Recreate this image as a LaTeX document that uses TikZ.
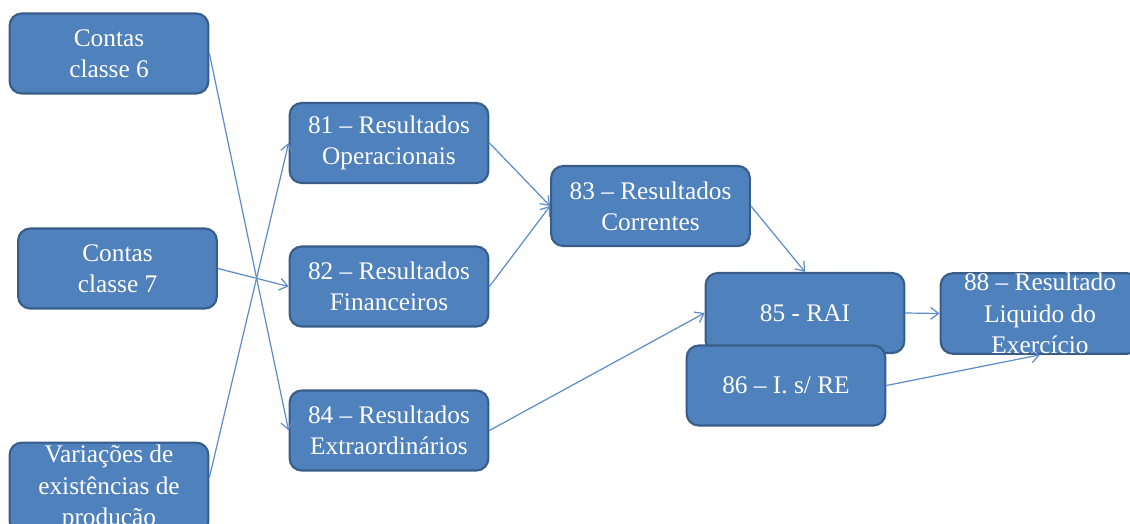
\documentclass[tikz,border=0pt]{standalone}
\usepackage{fontspec}
\setmainfont{Liberation Serif}
\usetikzlibrary{arrows.meta}
\definecolor{boxfill}{HTML}{4F81BD}
\definecolor{boxline}{HTML}{385D8A}
\definecolor{arrowc}{HTML}{5B8BC9}
\tikzset{
  box/.style={draw=boxline, line width=1.6pt, fill=boxfill, rounded corners=9pt,
    minimum width=149pt, minimum height=60pt, align=center, text=white,
    font=\fontsize{19}{23.5}\selectfont, inner sep=0pt},
  conn/.style={draw=arrowc, line width=0.9pt,
    -{Straight Barb[length=6pt,width=9pt,line width=0.9pt]}}
}
\begin{document}
\begin{tikzpicture}[x=0.75pt,y=-0.75pt]
\useasboundingbox (0,0) rectangle (1130,524);
\node[box] (c6) at (109,53.5) {Contas\\classe 6};
\node[box] (c7) at (117.5,268.5) {Contas\\classe 7};
\node[box, minimum height=68pt] (var) at (109,488) {Variações de\\existências de\\produção};
\node[box] (r81) at (389,143) {81 – Resultados\\Operacionais};
\node[box] (r82) at (389,286.5) {82 – Resultados\\Financeiros};
\node[box] (r84) at (389,430.5) {84 – Resultados\\Extraordinários};
\node[box] (r83) at (650.5,206) {83 – Resultados\\Correntes};
\node[box] (r85) at (805,313) {85 - RAI};
\node[box] (r86) at (786,385.5) {86 – I. s/ RE};
\node[box] (r88) at (1040,313.5) {88 – Resultado\\Liquido do\\Exercício};
\draw[conn] (c6.east) -- (r84.west);
\draw[conn] (c7.east) -- (r82.west);
\draw[conn] ([yshift=8pt]var.east) -- (r81.west);
\draw[conn] (r81.east) -- (r83.west);
\draw[conn] (r82.east) -- (r83.west);
\draw[conn] (r83.east) -- (r85.north);
\draw[conn] (r84.east) -- (r85.west);
\draw[conn] (r85.east) -- (r88.west);
\draw[conn] (r86.east) -- (r88.south);
\end{tikzpicture}
\end{document}
